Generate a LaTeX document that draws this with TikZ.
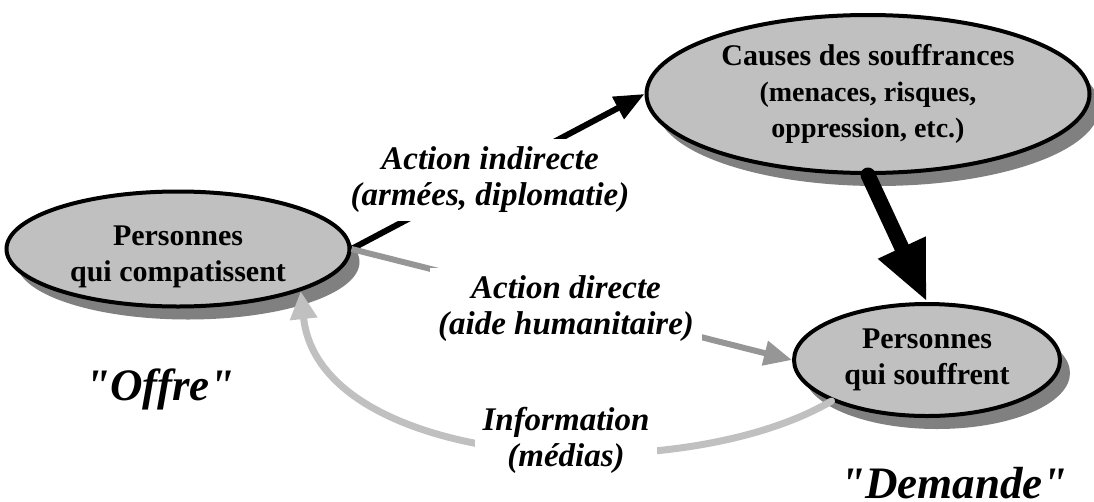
\documentclass[tikz,border=0pt]{standalone}
\usepackage{fontspec}
\setmainfont{Liberation Serif}
\usepackage{xcolor}
\usepackage{tikz}
\usetikzlibrary{shapes,arrows.meta,positioning,calc,shadows}
\definecolor{bulleFond}{RGB}{192,192,192}
\definecolor{ombre}{RGB}{128,128,128}
\definecolor{grisMoyen}{RGB}{150,150,150}
\definecolor{grisClair}{RGB}{192,192,192}
\newcommand{\petit}{\fontsize{28}{31}\selectfont}
\newcommand{\guill}{\textquotedbl}
\tikzset{
    bulle/.style={draw, ellipse, line width=4pt, fill=bulleFond, inner sep=0pt, align=center, font=\bfseries\fontsize{30}{36}\selectfont, drop shadow={shadow xshift=10pt, shadow yshift=-13pt, fill=ombre, opacity=1}},
    legende/.style={fill=white, inner sep=8pt, align=center, font=\bfseries\itshape\fontsize{33}{36}\selectfont},
    role/.style={font=\bfseries\itshape\fontsize{45}{54}\selectfont, anchor=base},
    indirecte/.style={-{Triangle[length=30pt, width=24pt]}, line width=6pt, black},
    directe/.style={-{Triangle[length=28pt, width=24pt]}, line width=6pt, grisMoyen},
    info/.style={-{Triangle[length=28pt, width=26pt]}, line width=7pt, grisClair, line cap=round},
    causalite/.style={-{Triangle[length=60pt, width=48pt]}, line width=15pt, black, line cap=round}
}

\begin{document}
\begin{tikzpicture}[x=1pt, y=-1pt]
    \useasboundingbox (0,0) rectangle (1094,501);

    \node[bulle, minimum width=343pt, minimum height=115pt] (compassion) at (178,249) {};
    \node[bulle, minimum width=443pt, minimum height=158pt] (causes) at (868,94) {Causes des souffrances\\{\petit (menaces, risques,}\\{\petit oppression, etc.)}};
    \node[bulle, minimum width=266pt, minimum height=112pt] (souffrance) at (927,360) {Personnes\\qui souffrent};
    \node[align=center, font=\bfseries\fontsize{30}{36}\selectfont] (tcompassion) at (178,257) {Personnes\\qui compatissent};

    \draw[indirecte] (compassion.east) -- (causes.west);
    \draw[directe] (compassion.east) -- (souffrance.west);
    \draw[causalite] (causes.south) -- (souffrance.north);
    \draw[info] (souffrance.south west) .. controls (680,490) and (320,470) .. (compassion.south east);

    \node[legende] (lindirecte) at (490,180) {Action indirecte\\(armées, diplomatie)};
    \node[legende] (ldirecte) at (566,309) {Action directe\\(aide humanitaire)};
    \node[legende] (linfo) at (566,440) {Information\\(médias)};

    \node[role] (offre) at (160,400) {\guill Offre\guill};
    \node[role] (demande) at (954,498) {\guill Demande\guill};
\end{tikzpicture}
\end{document}
